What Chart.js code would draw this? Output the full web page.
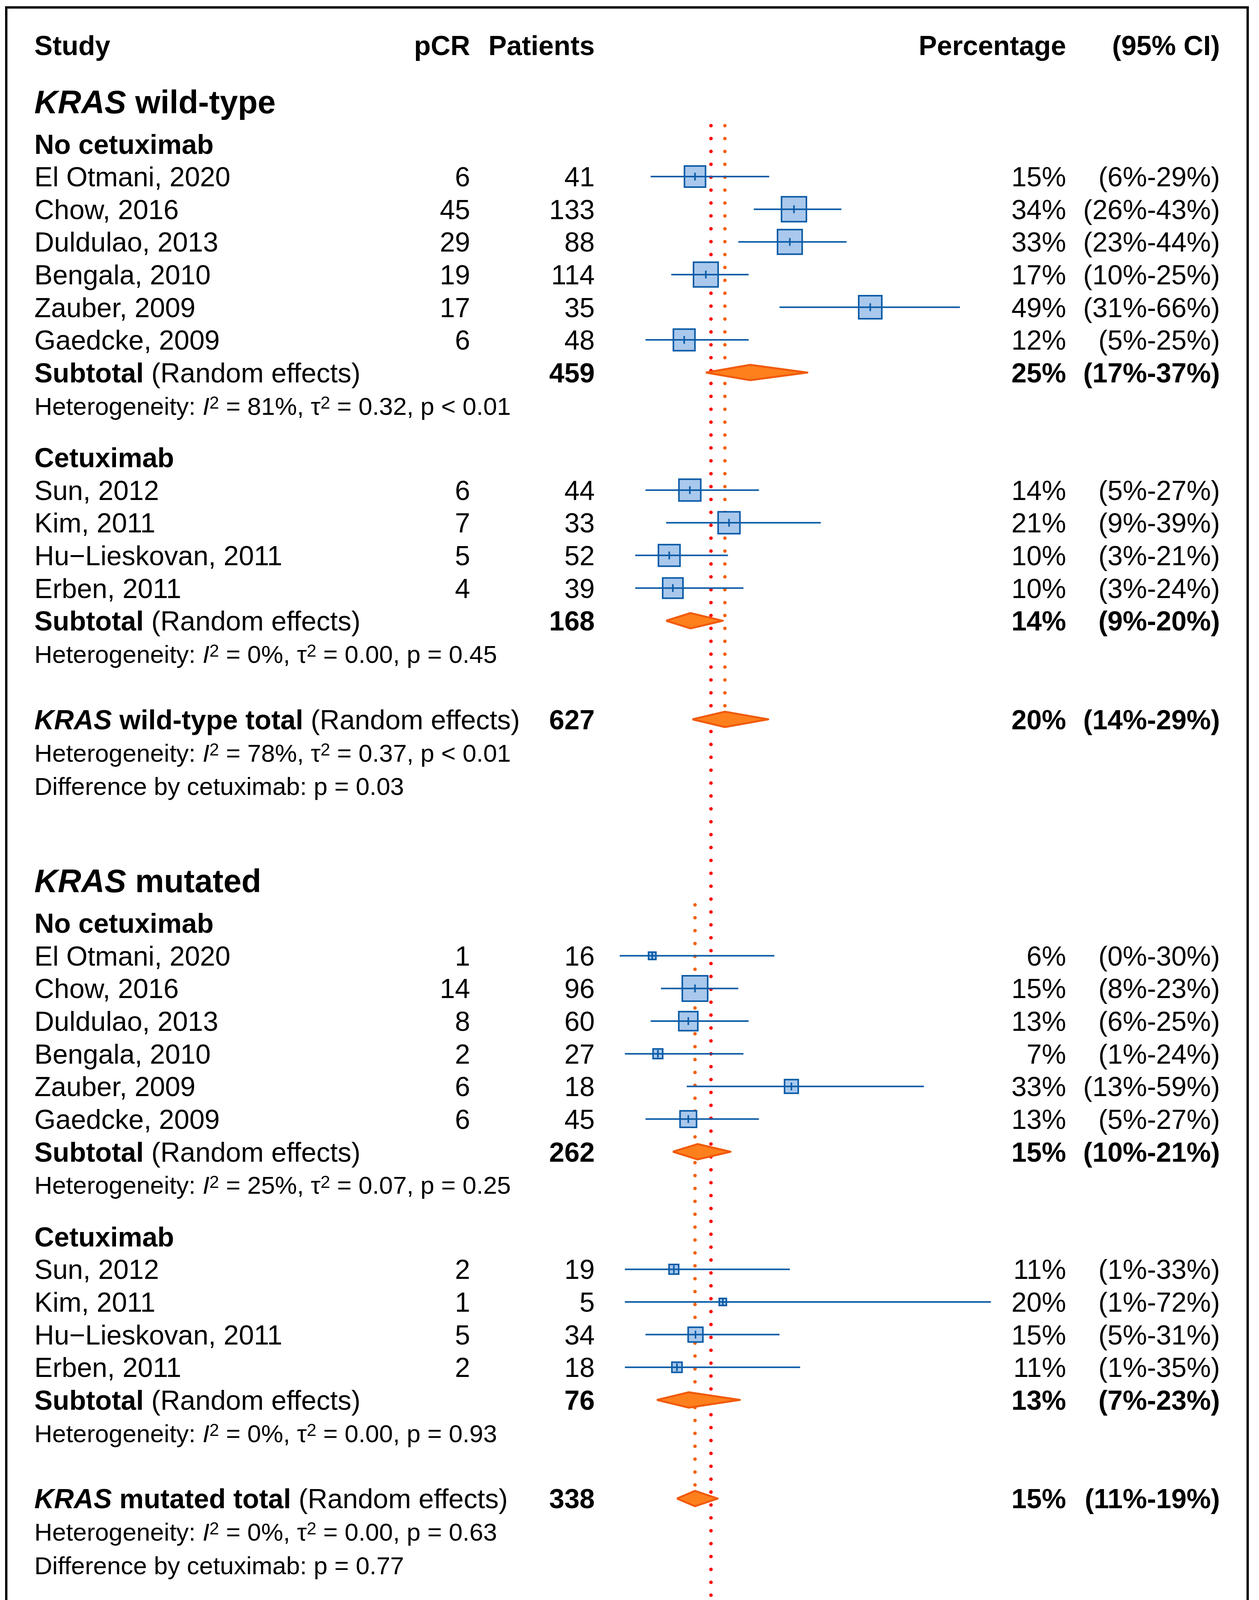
<!DOCTYPE html>
<html>
<head>
<meta charset="utf-8">
<title>pCR by KRAS status and cetuximab - forest plot</title>
<script src="https://cdn.jsdelivr.net/npm/chart.js@4.4.1/dist/chart.umd.min.js"></script>
<style>
  html, body { margin: 0; padding: 0; background: #fff; }
  #wrap { width: 3224px; height: 4678px; }
  canvas { display: block; }
</style>
</head>
<body>
<div id="wrap"><canvas id="forest" width="3224" height="4678"></canvas></div>
<script>
// Study rows, in plot order (subgroup: 0 = WT no cetuximab, 1 = WT cetuximab,
// 2 = mutated no cetuximab, 3 = mutated cetuximab)
const studyNames = [
    'El Otmani, 2020', 'Chow, 2016', 'Duldulao, 2013', 'Bengala, 2010', 'Zauber, 2009', 'Gaedcke, 2009',
    'Sun, 2012', 'Kim, 2011', 'Hu\u2212Lieskovan, 2011', 'Erben, 2011',
    'El Otmani, 2020', 'Chow, 2016', 'Duldulao, 2013', 'Bengala, 2010', 'Zauber, 2009', 'Gaedcke, 2009',
    'Sun, 2012', 'Kim, 2011', 'Hu\u2212Lieskovan, 2011', 'Erben, 2011'
];
const studySubgroup = [0, 0, 0, 0, 0, 0, 1, 1, 1, 1, 2, 2, 2, 2, 2, 2, 3, 3, 3, 3];
const pcrEvents = [6, 45, 29, 19, 17, 6, 6, 7, 5, 4, 1, 14, 8, 2, 6, 6, 2, 1, 5, 2];
const patientCounts = [41, 133, 88, 114, 35, 48, 44, 33, 52, 39, 16, 96, 60, 27, 18, 45, 19, 5, 34, 18];
const pctEstimate = [14.6, 33.8, 33.0, 16.7, 48.6, 12.5, 13.6, 21.2, 9.6, 10.3,
    6.3, 14.6, 13.3, 7.4, 33.3, 13.3, 10.5, 20.0, 14.7, 11.1];
const ciLower = [6, 26, 23, 10, 31, 5, 5, 9, 3, 3, 0, 8, 6, 1, 13, 5, 1, 1, 5, 1];
const ciUpper = [29, 43, 44, 25, 66, 25, 27, 39, 21, 24, 30, 23, 25, 24, 59, 27, 33, 72, 31, 35];
const pctLabels = ['15%', '34%', '33%', '17%', '49%', '12%', '14%', '21%', '10%', '10%',
    '6%', '15%', '13%', '7%', '33%', '13%', '11%', '20%', '15%', '11%'];
// relative study weight (box size)
const boxWeight = [0.83, 0.98, 0.97, 0.97, 0.91, 0.85, 0.86, 0.86, 0.85, 0.80,
    0.29, 1.00, 0.75, 0.38, 0.54, 0.65, 0.38, 0.28, 0.58, 0.40];

// Pooled estimates: 0-1 WT subgroups, 2 WT total, 3-4 mutated subgroups, 5 mutated total, 6 grand total
const poolPatients = [459, 168, 627, 262, 76, 338, 965];
const poolPct = [25.3, 13.7, 20.4, 15.1, 13.4, 14.6, 17.7];
const poolLower = [16.7, 9.0, 14.1, 10.3, 7.2, 11.1, 13.0];
const poolUpper = [36.4, 20.0, 28.8, 21.5, 23.3, 19.0, 23.0];
const poolPctLabels = ['25%', '14%', '20%', '15%', '13%', '15%', '18%'];
const poolCiLabels = ['(17%-37%)', '(9%-20%)', '(14%-29%)', '(10%-21%)', '(7%-23%)', '(11%-19%)', '(13%-23%)'];
const hetI2 = ['81%', '0%', '78%', '25%', '0%', '0%', '69%'];
const hetTau2 = ['0.32', '0.00', '0.37', '0.07', '0.00', '0.00', '0.33'];
const hetP = ['p < 0.01', 'p = 0.45', 'p < 0.01', 'p = 0.25', 'p = 0.93', 'p = 0.63', 'p < 0.01'];

const subgroupNames = ['No cetuximab', 'Cetuximab', 'No cetuximab', 'Cetuximab'];
const krasNames = ['wild-type', 'mutated'];
const cetuximabDiffP = ['0.03', '0.77'];
const krasDiffScope = ['', ' in No cetuximab', ' in Cetuximab'];
const krasDiffP = ['0.13', '0.05', '0.96'];

const xTicks = [0, 10, 20, 30, 40, 50, 60, 70];

// ---- look ----
const FONT = '"Liberation Sans", Arial, Helvetica, sans-serif';
const SIZE_MAIN = 70;
const SIZE_HET = 63.5;
const SIZE_GROUP = 83;
const COL_STUDY = 88, COL_PCR = 1204, COL_N = 1523, COL_PCT = 2730, COL_CI = 3124;
const Y_MAX = 49.58;        // rows between header centre and the x axis
const BOX_PX = 65;
const DIAMOND_HALF = 0.235;
const BLUE = '#0a5ba6';
const BOX_FILL = '#a9c8ec';
const ORANGE_FILL = '#fe801d';
const ORANGE_EDGE = '#f15a0b';
const ORANGE_DOT = '#f1620f';
const RED = '#ff0000';

// ---- row layout (in text lines) ----
const lines = [];
const studyRowY = [];
const poolRowY = [];
const refStart = [];
let rowPos = 0;

function run(t, o) {
    return Object.assign({ t: t, size: SIZE_MAIN }, o || {});
}

function addLine(dy, line) {
    rowPos += dy;
    line.y = rowPos;
    lines.push(line);
    return rowPos;
}

function hetRuns(p) {
    const s = { size: SIZE_HET };
    return [
        run('Heterogeneity: ', s), run('I', { size: SIZE_HET, i: 1 }), run('2', { size: SIZE_HET, sup: 1 }),
        run(' = ' + hetI2[p] + ', ', s), run('\u03c4', s), run('2', { size: SIZE_HET, sup: 1 }),
        run(' = ' + hetTau2[p] + ', ' + hetP[p], s)
    ];
}

addLine(0, { left: [run('Study', { b: 1 })], pcr: 'pCR', n: 'Patients', pct: 'Percentage', ci: '(95% CI)', bold: true });

krasNames.forEach((kras, g) => {
    const groupY = addLine(g === 0 ? 1.72 : 2.9, {
        left: [run('KRAS', { b: 1, i: 1, size: SIZE_GROUP }), run(' ' + kras, { b: 1, size: SIZE_GROUP })]
    });
    refStart[g] = groupY + 0.74;

    [0, 1].forEach(k => {
        const sg = g * 2 + k;
        const pool = g * 3 + k;
        addLine(k === 0 ? 1.3 : 1.58, { left: [run(subgroupNames[sg], { b: 1 })] });
        studyNames.forEach((name, i) => {
            if (studySubgroup[i] !== sg) return;
            studyRowY[i] = addLine(1, {
                left: [run(name)],
                pcr: String(pcrEvents[i]),
                n: String(patientCounts[i]),
                pct: pctLabels[i],
                ci: '(' + ciLower[i] + '%-' + ciUpper[i] + '%)'
            });
        });
        poolRowY[pool] = addLine(1, {
            left: [run('Subtotal', { b: 1 }), run(' (Random effects)')],
            n: String(poolPatients[pool]), pct: poolPctLabels[pool], ci: poolCiLabels[pool], bold: true
        });
        addLine(1.02, { left: hetRuns(pool) });
    });

    const tot = g * 3 + 2;
    poolRowY[tot] = addLine(2.0, {
        left: [run('KRAS', { b: 1, i: 1 }), run(' ' + kras + ' total', { b: 1 }), run(' (Random effects)')],
        n: String(poolPatients[tot]), pct: poolPctLabels[tot], ci: poolCiLabels[tot], bold: true
    });
    addLine(1.02, { left: hetRuns(tot) });
    addLine(1.02, { left: [run('Difference by cetuximab: p = ' + cetuximabDiffP[g], { size: SIZE_HET })] });
});

poolRowY[6] = addLine(2.53, {
    x: 93,
    left: [run('Grand total', { b: 1 }), run(' (Random effects)')],
    n: String(poolPatients[6]), pct: poolPctLabels[6], ci: poolCiLabels[6], bold: true
});
addLine(1.02, { x: 93, left: hetRuns(6) });
krasDiffScope.forEach((scope, j) => {
    addLine(1.02, {
        x: 93,
        left: [run('Difference by ', { size: SIZE_HET }), run('KRAS', { size: SIZE_HET, i: 1 }),
            run(' status' + scope + ': p = ' + krasDiffP[j], { size: SIZE_HET })]
    });
});

// ---- datasets ----
const datasets = [];

// dotted reference lines: overall and the two KRAS totals
[
    { x: poolPct[6], from: refStart[0], to: poolRowY[6] + DIAMOND_HALF, color: RED },
    { x: poolPct[2], from: refStart[0], to: poolRowY[2] + DIAMOND_HALF, color: ORANGE_DOT },
    { x: poolPct[5], from: refStart[1], to: poolRowY[5] + DIAMOND_HALF, color: ORANGE_DOT }
].forEach(r => {
    datasets.push({
        data: [{ x: r.x, y: r.from }, { x: r.x, y: r.to }],
        borderColor: r.color,
        borderWidth: 9,
        borderDash: [0, 33],
        borderCapStyle: 'round',
        pointRadius: 0,
        order: 10
    });
});

// study boxes
const studyPoints = pctEstimate.map((v, i) => ({ x: v, y: studyRowY[i] }));
datasets.push({
    data: studyPoints,
    showLine: false,
    pointStyle: 'rect',
    pointRadius: boxWeight.map(w => w * BOX_PX / Math.SQRT2),
    pointBackgroundColor: BOX_FILL,
    pointBorderColor: BLUE,
    pointBorderWidth: 4,
    order: 5
});

// confidence intervals
ciLower.forEach((lo, i) => {
    datasets.push({
        data: [{ x: lo, y: studyRowY[i] }, { x: ciUpper[i], y: studyRowY[i] }],
        borderColor: BLUE,
        borderWidth: 4,
        borderCapStyle: 'butt',
        pointRadius: 0,
        order: 4
    });
});

// point estimate mark inside the boxes
datasets.push({
    data: studyPoints,
    showLine: false,
    pointStyle: 'line',
    pointRotation: 90,
    pointRadius: 10,
    pointBorderColor: BLUE,
    pointBorderWidth: 4,
    order: 3
});

// pooled diamonds
poolPct.forEach((c, p) => {
    const y = poolRowY[p];
    datasets.push({
        data: [
            { x: poolLower[p], y: y }, { x: c, y: y - DIAMOND_HALF },
            { x: poolUpper[p], y: y }, { x: c, y: y + DIAMOND_HALF },
            { x: poolLower[p], y: y }
        ],
        fill: 'shape',
        backgroundColor: p === 6 ? RED : ORANGE_FILL,
        borderColor: ORANGE_EDGE,
        borderWidth: 5,
        borderJoinStyle: 'round',
        pointRadius: 0,
        order: 1
    });
});

// ---- text columns & frame ----
function fontFor(r) {
    const size = r.sup ? r.size * 0.7 : r.size;
    return (r.i ? 'italic ' : '') + (r.b ? 'bold ' : '') + size + 'px ' + FONT;
}

function drawRuns(ctx, runs, x, yMid, align) {
    let total = 0;
    runs.forEach(r => {
        ctx.font = fontFor(r);
        r.w = ctx.measureText(r.t).width;
        total += r.w;
    });
    let cx = align === 'right' ? x - total : x;
    runs.forEach(r => {
        ctx.font = fontFor(r);
        const base = yMid + 0.358 * r.size - (r.sup ? 0.25 * r.size : 0);
        ctx.fillText(r.t, cx, base);
        cx += r.w;
    });
}

const tablePlugin = {
    id: 'forestTable',
    beforeDraw(chart) {
        const ctx = chart.ctx;
        ctx.save();
        ctx.fillStyle = '#fff';
        ctx.fillRect(0, 0, chart.width, chart.height);
        ctx.strokeStyle = '#000';
        ctx.lineWidth = 6;
        ctx.strokeRect(16, 19, 3179, 4639);
        ctx.restore();
    },
    afterDraw(chart) {
        const ctx = chart.ctx;
        const yScale = chart.scales.y;
        ctx.save();
        ctx.fillStyle = '#000';
        ctx.textAlign = 'left';
        ctx.textBaseline = 'alphabetic';
        lines.forEach(line => {
            const y = yScale.getPixelForValue(line.y);
            drawRuns(ctx, line.left, line.x || COL_STUDY, y, 'left');
            const style = line.bold ? { b: 1 } : {};
            if (line.pcr) drawRuns(ctx, [run(line.pcr, style)], COL_PCR, y, 'right');
            if (line.n) drawRuns(ctx, [run(line.n, style)], COL_N, y, 'right');
            if (line.pct) drawRuns(ctx, [run(line.pct, style)], COL_PCT, y, 'right');
            if (line.ci) drawRuns(ctx, [run(line.ci, style)], COL_CI, y, 'right');
        });
        ctx.restore();
    }
};

Chart.defaults.font.family = FONT;

new Chart(document.getElementById('forest'), {
    type: 'line',
    data: { datasets: datasets },
    options: {
        responsive: false,
        devicePixelRatio: 1,
        animation: false,
        events: [],
        layout: { padding: { left: 1587, right: 713, top: 116, bottom: 0 } },
        elements: { line: { tension: 0 } },
        datasets: { line: { clip: false } },
        plugins: {
            legend: { display: false },
            tooltip: { enabled: false }
        },
        scales: {
            x: {
                type: 'linear',
                min: 0,
                max: 70,
                afterBuildTicks: axis => { axis.ticks = xTicks.map(v => ({ value: v })); },
                afterFit: axis => { axis.height = 417; },
                border: { display: true, color: '#000', width: 5 },
                grid: {
                    drawOnChartArea: false,
                    drawTicks: true,
                    tickLength: 44,
                    tickColor: '#000',
                    tickWidth: 4
                },
                ticks: {
                    color: '#000',
                    font: { size: 70 },
                    padding: 43,
                    maxRotation: 0,
                    autoSkip: false
                },
                title: {
                    display: true,
                    text: '(%)',
                    color: '#000',
                    font: { size: 70 },
                    padding: { top: 0, bottom: 157 }
                }
            },
            y: {
                type: 'linear',
                display: false,
                reverse: true,
                min: 0,
                max: Y_MAX
            }
        }
    },
    plugins: [tablePlugin]
});
</script>
</body>
</html>
